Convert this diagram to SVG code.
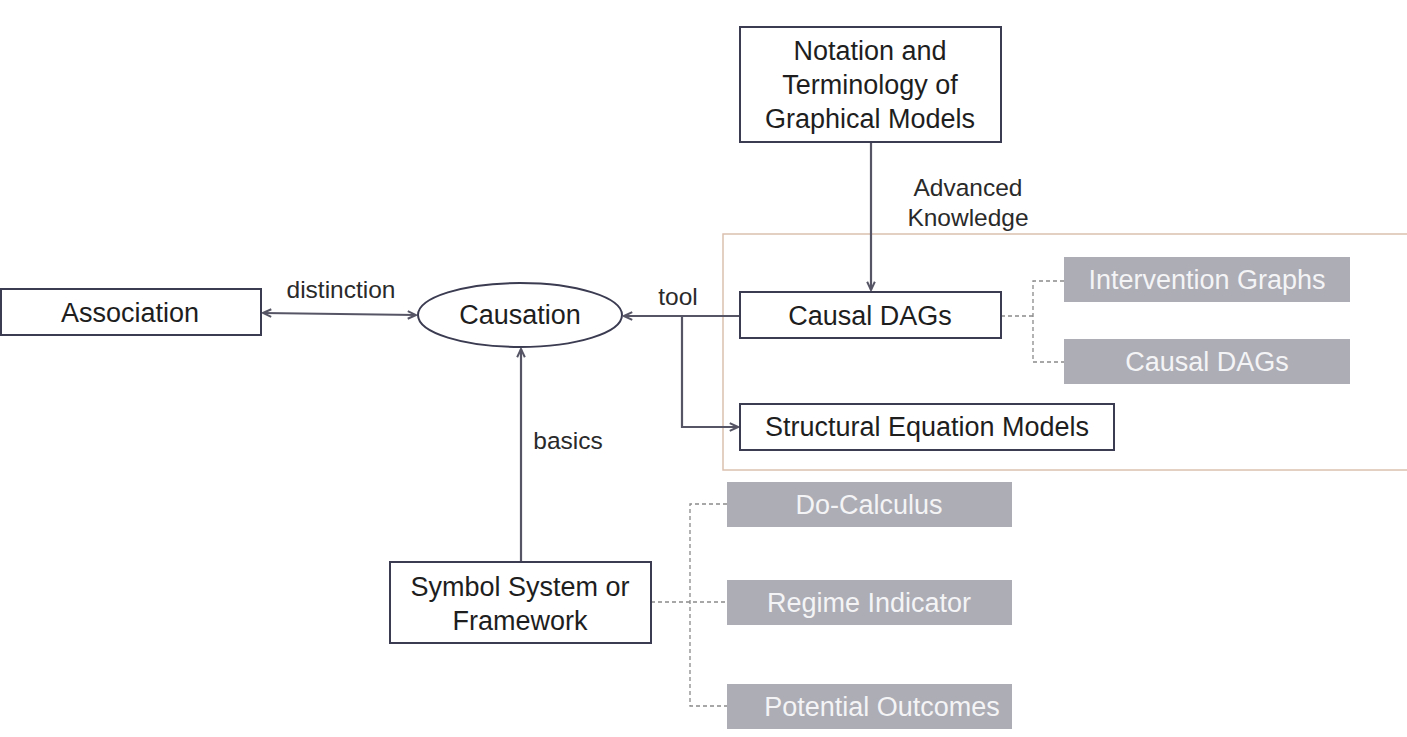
<svg xmlns="http://www.w3.org/2000/svg" width="1407" height="737" viewBox="0 0 1407 737">
<defs>
<marker id="ah" viewBox="0 0 10 10" refX="9" refY="5" markerWidth="11" markerHeight="11" orient="auto-start-reverse" markerUnits="userSpaceOnUse">
<path d="M1.5,1.5 L9,5 L1.5,8.5" fill="none" stroke="#555566" stroke-width="1.8"/>
</marker>
<style>
.box{fill:#ffffff;stroke:#3b3b52;stroke-width:2}
.gbox{fill:#adadb5;stroke:none}
.t{font-family:"Liberation Sans",Arial,sans-serif;font-size:27px;fill:#1e1e1e;text-anchor:middle;dominant-baseline:central}
.gt{font-family:"Liberation Sans",Arial,sans-serif;font-size:27px;fill:#f4f4f6;text-anchor:middle;dominant-baseline:central}
.lbl{font-family:"Liberation Sans",Arial,sans-serif;font-size:24.5px;fill:#2a2a2a;text-anchor:middle;dominant-baseline:central}
.conn{fill:none;stroke:#555566;stroke-width:2.2}
.dash{fill:none;stroke:#8a8a8a;stroke-width:1.3;stroke-dasharray:4,3}
</style>
</defs>
<rect width="1407" height="737" fill="#ffffff"/>
<rect id="container" x="723" y="234" width="690" height="236" fill="none" stroke="#dcc0b0" stroke-width="1.5"/>

<g id="connectors">
<line class="conn" x1="263" y1="313" x2="416" y2="315" marker-start="url(#ah)" marker-end="url(#ah)"/>
<line class="conn" x1="740" y1="316" x2="624" y2="316" marker-end="url(#ah)"/>
<polyline class="conn" points="682,316 682,427 738,427" marker-end="url(#ah)"/>
<line class="conn" x1="871" y1="142" x2="871" y2="290" marker-end="url(#ah)"/>
<line class="conn" x1="521" y1="562" x2="521" y2="349" marker-end="url(#ah)"/>
<polyline class="dash" points="1001,316 1033,316"/>
<polyline class="dash" points="1064,281 1033,281 1033,362 1064,362"/>
<polyline class="dash" points="651,602 727,602"/>
<polyline class="dash" points="727,504 690,504 690,706 727,706"/>
<text class="lbl" x="341" y="289">distinction</text>
<text class="lbl" x="678" y="296">tool</text>
<text class="lbl" x="968" y="187">Advanced</text>
<text class="lbl" x="968" y="217">Knowledge</text>
<text class="lbl" x="568" y="440">basics</text>
</g>

<g id="notation">
<rect class="box" x="740" y="27" width="261" height="115"/>
<text class="t" x="870" y="51">Notation and</text>
<text class="t" x="870" y="85">Terminology of</text>
<text class="t" x="870" y="119">Graphical Models</text>
</g>
<g id="association">
<rect class="box" x="1" y="289" width="260" height="46"/>
<text class="t" x="130" y="313">Association</text>
</g>
<g id="causation">
<ellipse class="box" cx="520" cy="315" rx="102" ry="32"/>
<text class="t" x="520" y="315">Causation</text>
</g>
<g id="causal-dags">
<rect class="box" x="740" y="292" width="261" height="46"/>
<text class="t" x="870" y="316">Causal DAGs</text>
</g>
<g id="sem">
<rect class="box" x="740" y="404" width="374" height="46"/>
<text class="t" x="927" y="427">Structural Equation Models</text>
</g>
<g id="intervention-graphs">
<rect class="gbox" x="1064" y="257" width="286" height="45"/>
<text class="gt" x="1207" y="280">Intervention Graphs</text>
</g>
<g id="causal-dags-2">
<rect class="gbox" x="1064" y="339" width="286" height="45"/>
<text class="gt" x="1207" y="362">Causal DAGs</text>
</g>
<g id="symbol-system">
<rect class="box" x="390" y="562" width="261" height="81"/>
<text class="t" x="520" y="587">Symbol System or</text>
<text class="t" x="520" y="621">Framework</text>
</g>
<g id="do-calculus">
<rect class="gbox" x="727" y="482" width="285" height="45"/>
<text class="gt" x="869" y="505">Do-Calculus</text>
</g>
<g id="regime-indicator">
<rect class="gbox" x="727" y="580" width="285" height="45"/>
<text class="gt" x="869" y="603">Regime Indicator</text>
</g>
<g id="potential-outcomes">
<rect class="gbox" x="727" y="684" width="285" height="45"/>
<text class="gt" x="882" y="707">Potential Outcomes</text>
</g>
</svg>
